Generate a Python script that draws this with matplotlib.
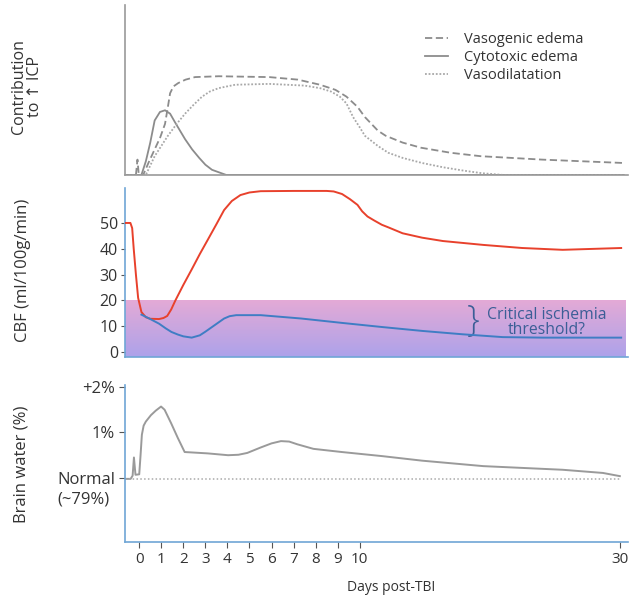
import numpy as np
import matplotlib
matplotlib.use("Agg")
import matplotlib.pyplot as plt

plt.rcParams['font.family'] = ['Open Sans', 'DejaVu Sans']

# ---- datos (dias post-TBI) ----
vasog_d = [-0.65, -0.15, -0.08, -0.02, 0.18, 0.45, 0.7, 0.95, 1.17, 1.3, 1.4, 1.55, 1.77, 2.1, 2.53, 3.6,
           5.9, 7.2, 8.2, 8.9, 9.4, 9.9, 10.4, 11.4, 12.0, 13.3, 14.7, 17.0, 19.3, 24.0, 30.3]
vasog_v = [0.0, 0.0, 0.09, 0.0, 0.0, 0.08, 0.15, 0.22, 0.30, 0.40, 0.48, 0.52, 0.54, 0.56, 0.575, 0.58,
           0.575, 0.56, 0.53, 0.50, 0.46, 0.40, 0.34, 0.26, 0.23, 0.19, 0.16, 0.13, 0.11, 0.09, 0.07]

cyto_d = [-0.65, 0.1, 0.3, 0.5, 0.7, 0.94, 1.17, 1.4, 1.62, 2.08, 2.4, 2.72, 3.0, 3.3, 3.94, 30.3]
cyto_v = [0.0, 0.0, 0.08, 0.19, 0.32, 0.37, 0.38, 0.36, 0.31, 0.21, 0.15, 0.10, 0.06, 0.03, 0.0, 0.0]

vasod_d = [-0.65, 0.3, 0.7, 1.0, 1.3, 1.7, 2.08, 2.45, 2.85, 3.2, 3.6, 4.35, 5.9, 7.5, 8.2, 8.7, 9.1, 9.4,
           9.7, 10.0, 10.4, 11.4, 12.2, 13.3, 14.8, 16.4, 18.0, 19.4, 21.0, 30.3]
vasod_v = [0.0, 0.0, 0.11, 0.17, 0.23, 0.30, 0.36, 0.41, 0.46, 0.49, 0.51, 0.53, 0.535, 0.525, 0.51, 0.49, 0.46,
           0.42, 0.34, 0.28, 0.23, 0.17, 0.13, 0.10, 0.07, 0.045, 0.025, 0.01, 0.0, 0.0]

red_d = [-0.65, -0.4, -0.32, -0.25, -0.15, -0.05, 0.1, 0.3, 0.5, 0.9, 1.1, 1.27, 1.45, 1.64, 2.0, 2.38, 2.75,
         3.11, 3.5, 3.85, 4.2, 4.59, 5.0, 5.51, 7.0, 8.5, 8.82, 9.2, 9.56, 9.9, 10.19, 10.6, 11.1, 11.7, 12.2,
         13.3, 14.8, 16.4, 19.5, 22.5, 25.6, 30.1]
red_v = [50, 50, 48, 40, 30, 21, 15.5, 13.5, 12.9, 12.8, 13.2, 14, 16.5, 20, 26, 32, 38,
         43.5, 49.5, 55, 58.5, 60.8, 61.8, 62.3, 62.4, 62.4, 62.2, 61.2, 59.2, 57, 54.5, 52.5, 51, 49.3, 48.3,
         46, 44.3, 43, 41.5, 40.3, 39.6, 40.3]

blue_d = [0.1, 0.5, 0.9, 1.2, 1.46, 1.75, 2.0, 2.38, 2.75, 3.0, 3.3, 3.6, 3.85, 4.1, 4.4, 5.51, 7.35, 9.2,
          11.73, 14.8, 17.9, 21.0, 24.1, 30.1]
blue_v = [14.5, 12.8, 11, 9.2, 7.8, 6.8, 6.1, 5.6, 6.5, 7.9, 9.7, 11.5, 13, 13.9, 14.3, 14.3, 13, 11.3,
          9.7, 8.2, 6.9, 5.8, 5.6, 5.6]

water_d = [-0.65, -0.39, -0.3, -0.24, -0.17, 0.0, 0.06, 0.12, 0.2, 0.3, 0.53, 0.75, 0.99, 1.15, 1.45, 1.75,
           2.06, 3.11, 4.03, 4.5, 4.9, 5.51, 6.0, 6.43, 6.8, 7.17, 7.9, 9.19, 11.73, 14.8, 19.5, 25.6, 28.7, 30.0]
water_v = [-0.02, -0.02, 0.05, 0.45, 0.07, 0.08, 0.5, 0.95, 1.15, 1.24, 1.38, 1.48, 1.57, 1.5, 1.2, 0.88,
           0.57, 0.54, 0.5, 0.51, 0.55, 0.67, 0.76, 0.81, 0.8, 0.74, 0.64, 0.57, 0.48, 0.38, 0.26, 0.18, 0.11, 0.04]

xticks = [0, 1, 2, 3, 4, 5, 6, 7, 8, 9, 10, 30]
cbf_ticks = [0, 10, 20, 30, 40, 50]
water_ticks = [0, 1, 2]
water_labels = ["Normal", "1%", "+2%"]

# eje x comprimido despues del dia 10
k = 0.59
def fwd(d):
    d = np.asarray(d, dtype=float)
    return np.where(d <= 10, d, 10 + (d - 10) * k)
def inv(u):
    u = np.asarray(u, dtype=float)
    return np.where(u <= 10, u, 10 + (u - 10) / k)

gris = "#8c8c8c"
azul_eje = "#6fa6d6"
txt = "#333333"

fig = plt.figure(figsize=(6.34, 5.99), dpi=100)
ax1 = fig.add_axes([0.197, 0.708, 0.793, 0.284])
ax2 = fig.add_axes([0.197, 0.404, 0.793, 0.282])
ax3 = fig.add_axes([0.197, 0.095, 0.793, 0.262])

for ax in (ax1, ax2, ax3):
    ax.set_xscale('function', functions=(fwd, inv))
    ax.set_xlim(-0.65, 30.6)
    for s in ('top', 'right'):
        ax.spines[s].set_visible(False)

# --- panel superior ---
ax1.plot(vasog_d, vasog_v, color=gris, lw=1.3, ls=(0, (4, 2)), label="Vasogenic edema")
ax1.plot(cyto_d, cyto_v, color=gris, lw=1.3, label="Cytotoxic edema")
ax1.plot(vasod_d, vasod_v, color="#a8a8a8", lw=1.3, ls=(0, (1, 1)), label="Vasodilatation")
ax1.set_ylim(0, 1)
ax1.set_xticks([])
ax1.set_yticks([])
for s in ('left', 'bottom'):
    ax1.spines[s].set_color("#9a9a9a")
    ax1.spines[s].set_linewidth(1.2)
ax1.legend(loc='upper left', bbox_to_anchor=(425 / 634, 1 - 32 / 599), bbox_transform=fig.transFigure,
           frameon=False, fontsize=10.5, borderpad=0, borderaxespad=0,
           handlelength=1.6, labelspacing=0.22, handletextpad=1.1, labelcolor=txt)

# --- panel central (CBF) ---
y0, y1 = -1.9, 63.5
ax2.set_ylim(y0, y1)
grad = np.linspace(0, 1, 100).reshape(-1, 1)
cmap = matplotlib.colors.LinearSegmentedColormap.from_list("pm", ["#aca2ea", "#e4aad6"])
ax2.imshow(grad, cmap=cmap, origin='lower', aspect='auto', transform=ax2.transAxes,
           extent=[0, 0.995, 0, (20 - y0) / (y1 - y0)], zorder=0)
ax2.plot(red_d, red_v, color="#e8412c", lw=1.4, zorder=3)
ax2.plot(blue_d, blue_v, color="#3f7dc4", lw=1.4, zorder=4)
ax2.set_yticks(cbf_ticks)
ax2.set_xticks([])
ax2.tick_params(axis='y', length=3, color="#555555", labelsize=11.5, labelcolor=txt, pad=2)
for s in ('left', 'bottom'):
    ax2.spines[s].set_color(azul_eje)
    ax2.spines[s].set_linewidth(1.2)
ax2.text(18.7, 12, "}", fontsize=26, color="#3b5e96", ha='center', va='center',
         family=['Open Sans'], fontweight='light')
ax2.text(24.4, 11.5, "Critical ischemia\nthreshold?", fontsize=11.3, color="#3b5e96",
         ha='center', va='center', linespacing=0.95)

# --- panel inferior (agua cerebral) ---
ax3.set_ylim(-1.41, 2.04)
ax3.plot(water_d, water_v, color="#9a9a9a", lw=1.4)
ax3.axhline(-0.03, xmax=0.985, color="#aaaaaa", lw=1.1, ls=(0, (1, 1.5)))
ax3.set_yticks(water_ticks)
ax3.set_yticklabels(water_labels)
fig.text(57 / 634, 1 - 500 / 599, "(~79%)", ha='left', va='center', fontsize=12, color=txt)
ax3.set_xticks(xticks)
ax3.set_xticklabels([str(t) for t in xticks])
ax3.tick_params(axis='x', length=4, color="#555555", labelsize=11, labelcolor=txt, pad=3)
ax3.tick_params(axis='y', length=4, color="#555555", labelsize=12, labelcolor=txt, pad=3)
for s in ('left', 'bottom'):
    ax3.spines[s].set_color(azul_eje)
    ax3.spines[s].set_linewidth(1.2)
ax3.set_xlabel("Days post-TBI", fontsize=10, color=txt)
ax3.xaxis.set_label_coords(0.53, -0.24)

fig.text(0.042, 0.855, "Contribution\nto \u2191 ICP", rotation=90, ha='center', va='center',
         fontsize=11.5, color=txt, linespacing=1.0)
fig.text(0.036, 0.548, "CBF (ml/100g/min)", rotation=90, ha='center', va='center',
         fontsize=12, color=txt)
fig.text(0.034, 0.225, "Brain water (%)", rotation=90, ha='center', va='center',
         fontsize=12, color=txt)

fig.savefig("out.png", dpi=100)
